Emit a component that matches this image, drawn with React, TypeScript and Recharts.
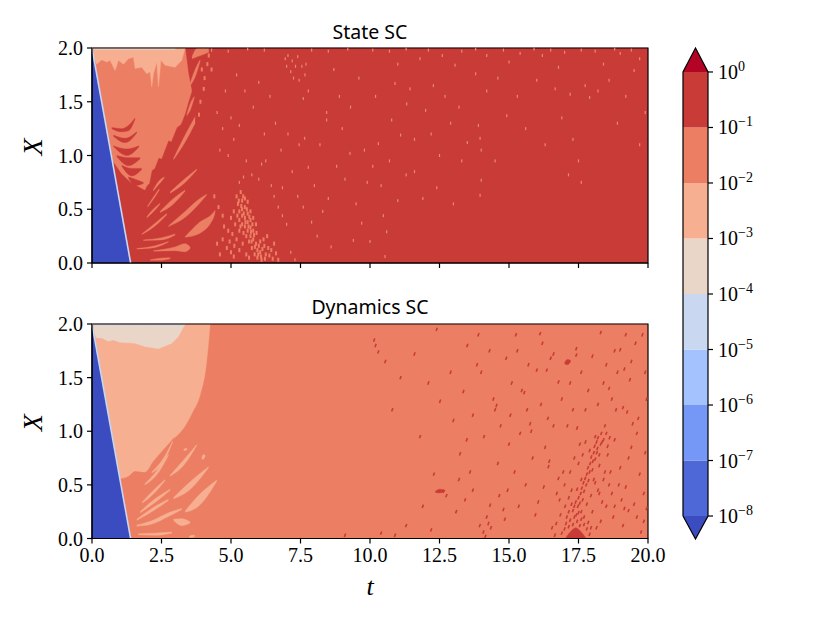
import { Area, ComposedChart, Line, ReferenceArea, Scatter, XAxis, YAxis } from 'recharts'

type Band = [number, number, number]

// contour colours (coolwarm, one per decade)
const RED = '#c93b37'
const ORANGE = '#ec7f63'
const LIGHT = '#f7af91'
const PALE = '#ead5c9'
const PALE_BLUE = '#c9d7f0'
const BLUE = '#3b4cc0'

const tTicks = [0, 2.5, 5, 7.5, 10, 12.5, 15, 17.5, 20]
const xTicks = [0, 0.5, 1, 1.5, 2]

const fullDomain: Band[] = [[0, 0, 2], [20, 0, 2]]
const wedge: Band[] = [[0, 0, 2], [1.39, 0, 0]]
const front = [{ t: 0, X: 2 }, { t: 1.39, X: 0 }]

// State SC, regions as [t, low X, high X]
const stateBody: Band[] = [
  [0.02, 1.97, 2], [0.6, 1.14, 2], [0.75, 0.95, 2], [1.07, 0.83, 2], [1.4, 0.75, 2], [1.9, 0.68, 2],
  [1.98, 0.72, 2], [2.06, 0.74, 2], [2.15, 0.86, 2], [2.25, 0.88, 2], [2.4, 0.98, 2], [2.5, 0.97, 2], [2.75, 1.14, 2], [2.85, 1.13, 2], [3.05, 1.26, 2],
  [3.2, 1.29, 2], [3.35, 1.39, 2], [3.47, 1.5, 1.76], [3.59, 1.6, 1.6],
]
const stateTop: Band[] = [
  [0.05, 1.93, 2], [0.17, 1.85, 2], [0.35, 1.89, 2], [0.53, 1.87, 2], [0.65, 1.885, 2], [0.83, 1.79, 2], [0.95, 1.885, 2],
  [1.13, 1.85, 2], [1.31, 1.9, 2], [1.49, 1.915, 2], [1.55, 1.81, 2], [1.79, 1.82, 2], [1.97, 1.76, 2], [2.09, 1.78, 2],
  [2.15, 1.64, 2], [2.21, 1.76, 2], [2.33, 1.87, 2], [2.39, 1.64, 2], [2.48, 1.885, 2], [2.63, 1.84, 2], [2.99, 1.82, 2],
  [3.23, 1.885, 2], [3.35, 2, 2],
]
const stateStrip: Band[] = [[0.05, 1.985, 2], [3.0, 1.985, 2]]
const stateCrescents: Band[][] = [
  [[0.71, 1.25, 1.26], [1.07, 1.22, 1.25], [1.31, 1.23, 1.28], [1.55, 1.34, 1.35]],
  [[0.77, 1.18, 1.19], [1.19, 1.12, 1.16], [1.61, 1.21, 1.22]],
  [[0.77, 1.085, 1.09], [1.25, 1.0, 1.06], [1.69, 1.08, 1.09]],
  [[0.89, 0.99, 1.0], [1.31, 0.905, 0.98], [1.73, 0.97, 0.98]],
  [[1.07, 0.9, 0.91], [1.43, 0.81, 0.88], [1.79, 0.87, 0.88]],
  [[1.31, 0.79, 0.8], [1.55, 0.72, 0.78], [1.85, 0.74, 0.75]],
]
const stateFeathers: Band[][] = [
  [[1.97, 0.42, 0.43], [2.2, 0.475, 0.5], [2.45, 0.55, 0.555]],
  [[1.79, 0.265, 0.27], [2.27, 0.345, 0.37], [2.69, 0.45, 0.46]],
  [[2.45, 0.47, 0.48], [2.93, 0.55, 0.6], [3.35, 0.67, 0.68]],
  [[2.81, 0.65, 0.66], [3.35, 0.75, 0.785], [3.77, 0.865, 0.875]],
  [[2.75, 0.34, 0.345], [3.35, 0.425, 0.48], [3.83, 0.545, 0.59], [4.13, 0.635, 0.64]],
  [[3.35, 0.24, 0.245], [3.83, 0.27, 0.37], [4.37, 0.42, 0.47], [4.43, 0.48, 0.49]],
  [[1.85, 0.21, 0.215], [2.51, 0.215, 0.235], [2.99, 0.26, 0.27]],
  [[1.61, 0.13, 0.135], [2.27, 0.145, 0.16], [2.75, 0.195, 0.2]],
  [[2.21, 0.11, 0.115], [2.99, 0.115, 0.15], [3.35, 0.105, 0.18], [3.53, 0.135, 0.15]],
  [[2.09, 0.025, 0.03], [2.45, 0.025, 0.045], [2.81, 0.04, 0.05]],
  [[2.93, 0.96, 0.97], [3.29, 1.1, 1.16], [3.71, 1.3, 1.36]],
  [[3.41, 1.37, 1.38], [3.53, 1.42, 1.48], [3.68, 1.54, 1.55]],
  [[3.53, 1.65, 1.67], [3.71, 1.73, 1.8], [3.89, 1.88, 1.89]],
  [[3.6, 1.9, 1.92], [3.8, 1.92, 2], [4.2, 1.96, 2]],
  [[2.2, 0.67, 0.68], [2.4, 0.73, 0.76], [2.6, 0.79, 0.8]],
  [[2.0, 0.52, 0.53], [2.2, 0.59, 0.61], [2.42, 0.68, 0.69]],
]
const stateSpecks: [number, number][] = [
  [3.95, 1.8], [4.05, 1.72], [4.15, 1.85], [4.2, 1.93], [4.02, 1.62], [3.9, 1.5], [3.85, 1.38], [4.3, 1.8],
  [4.4, 0.62], [4.55, 0.52], [4.7, 0.44], [4.5, 0.18], [4.7, 0.22], [4.85, 0.14], [5.0, 0.1], [5.1, 0.06], [4.9, 0.3],
  [5.0, 0.42], [5.1, 0.48], [5.15, 0.36], [5.2, 0.62], [5.25, 0.55], [5.3, 0.48], [5.3, 0.4], [5.3, 0.3], [5.35, 0.66],
  [5.4, 0.58], [5.4, 0.5], [5.4, 0.44], [5.4, 0.36], [5.45, 0.28], [5.5, 0.6], [5.5, 0.52], [5.5, 0.42], [5.5, 0.34],
  [5.55, 0.25], [5.6, 0.57], [5.6, 0.46], [5.6, 0.38], [5.6, 0.3], [5.65, 0.2], [5.7, 0.48], [5.7, 0.4], [5.7, 0.33],
  [5.7, 0.25], [5.75, 0.14], [5.8, 0.42], [5.8, 0.3], [5.8, 0.22], [5.85, 0.08], [5.9, 0.36], [5.9, 0.18], [5.95, 0.12],
  [5.95, 0.05], [6.05, 0.2], [6.05, 0.1], [6.1, 0.03], [6.2, 0.16], [6.25, 0.08], [6.3, 0.25], [6.45, 0.12], [6.55, 0.18],
  [5.23, 0.44], [5.28, 0.58], [5.34, 0.34], [5.37, 0.53], [5.44, 0.62], [5.46, 0.46], [5.52, 0.38], [5.57, 0.5], [5.63, 0.34],
  [5.66, 0.43], [5.72, 0.29], [5.74, 0.2], [5.77, 0.36], [5.83, 0.26], [5.86, 0.15], [5.92, 0.28], [5.98, 0.08], [6.0, 0.16],
  [6.08, 0.06], [6.13, 0.13], [6.17, 0.22], [6.22, 0.04], [6.34, 0.14], [6.38, 0.07], [6.5, 0.04], [6.62, 0.09], [6.7, 0.03],
  [4.6, 0.08], [4.75, 0.34], [4.95, 0.2], [5.05, 0.27], [5.12, 0.16], [5.2, 0.22], [5.3, 0.12], [5.42, 0.18], [5.55, 0.08], [5.65, 0.05],
]
const stateFine: [number, number][] = [
  [5.0, 1.35], [5.1, 1.15], [4.9, 1.0], [5.3, 1.28], [5.55, 0.95], [5.45, 0.8], [5.3, 0.75], [5.75, 0.82], [6.1, 0.92],
  [6.0, 0.78], [6.2, 1.2], [6.25, 0.95], [6.45, 0.72], [6.55, 0.62], [6.7, 0.52], [6.85, 0.44], [7.0, 0.36], [7.15, 0.1],
  [7.3, 0.03], [6.85, 0.7], [7.05, 1.2], [7.45, 1.1], [7.65, 1.16], [7.78, 0.89], [7.9, 0.38], [6.95, 1.9], [7.0, 1.83],
  [7.05, 1.93], [7.15, 1.78], [7.2, 1.88], [7.25, 1.72], [7.32, 1.83], [7.4, 1.92], [7.45, 1.7], [7.55, 1.83], [7.66, 1.75],
  [7.78, 1.6], [7.6, 1.53], [7.7, 1.85], [8.44, 1.4], [8.44, 1.33], [8.7, 1.8], [8.2, 1.1], [9.28, 1.02], [9.1, 0.78],
  [8.5, 0.6], [9.4, 0.21], [9.7, 0.37], [10.0, 0.2], [10.3, 1.11], [10.48, 0.44], [10.54, 0.06], [10.6, 0.29], [10.78, 1.33],
  [10.9, 1.67], [11.1, 1.19], [11.32, 1.48], [11.44, 1.62], [12.0, 1.42], [12.28, 1.65], [11.0, 1.85], [11.8, 1.9], [12.6, 1.93],
  [13.06, 1.84], [13.8, 1.76], [13.96, 1.16], [14.0, 1.05], [14.5, 0.95], [14.0, 0.77], [13.96, 0.63], [13.3, 0.95], [13.9, 1.28],
  [14.92, 1.37], [15.0, 1.87], [14.2, 1.93], [15.4, 1.95], [16.66, 1.62], [16.78, 1.82], [17.2, 1.57], [17.74, 1.65], [17.9, 1.54],
  [18.2, 1.6], [19.5, 1.79], [19.9, 1.4], [17.5, 0.95], [17.14, 0.82], [18.4, 1.85], [16.2, 1.93], [17.0, 1.96], [19.0, 1.95],
  [19.7, 1.9], [12.5, 1.0], [11.6, 0.85], [12.9, 1.3], [9.9, 0.75], [8.9, 1.55], [9.6, 1.72],
  [4.3, 1.98], [4.9, 1.97], [5.6, 1.99], [6.2, 1.98], [7.9, 1.98], [8.5, 1.97], [9.2, 1.99], [10.1, 1.98], [10.7, 1.97], [11.3, 1.99],
  [12.1, 1.98], [13.3, 1.97], [13.8, 1.99], [14.8, 1.98], [15.9, 1.99], [16.5, 1.98], [17.6, 1.98], [18.1, 1.97], [18.8, 1.99], [19.4, 1.98],
  [4.5, 1.4], [4.7, 1.25], [4.6, 1.05], [4.8, 1.6], [5.2, 1.75], [5.5, 1.6], [5.8, 1.45], [6.0, 1.68], [6.4, 1.55], [6.6, 1.3],
  [6.8, 1.05], [7.2, 0.85], [7.4, 0.62], [7.6, 0.52], [8.0, 0.72], [8.1, 0.25], [8.3, 0.48], [8.6, 0.15], [8.8, 0.9], [9.0, 1.25],
  [9.3, 1.45], [9.5, 0.55], [9.8, 1.05], [10.1, 0.9], [10.2, 1.55], [10.4, 0.72], [10.7, 0.95], [11.0, 0.58], [11.3, 0.82], [11.6, 1.15],
  [11.9, 0.6], [12.2, 1.2], [12.4, 0.7], [12.7, 1.55], [13.0, 0.55], [13.2, 1.45], [13.5, 1.12], [14.2, 1.6], [14.6, 1.72], [15.3, 1.55],
  [15.6, 1.25], [16.0, 1.7], [16.3, 1.1], [16.9, 1.35], [17.3, 1.15], [17.6, 0.75], [18.6, 1.7], [18.9, 1.3], [19.2, 1.55], [19.7, 1.1],
]

// Dynamics SC
const dynamicsBody: Band[] = [
  [0.02, 1.97, 2], [0.6, 1.14, 2], [1.0, 0.56, 2], [1.3, 0.58, 2], [1.55, 0.63, 2], [1.9, 0.62, 2], [2.2, 0.72, 2], [2.9, 0.92, 2],
  [3.3, 1.03, 2], [3.6, 1.17, 2], [3.9, 1.35, 2], [4.1, 1.6, 2], [4.2, 1.85, 2], [4.25, 2, 2],
]
const dynamicsTop: Band[] = [
  [0.06, 1.92, 2], [0.17, 1.87, 2], [0.35, 1.87, 2], [0.59, 1.84, 2], [0.77, 1.85, 2], [1.0, 1.83, 2], [1.55, 1.82, 2], [1.9, 1.79, 2],
  [2.39, 1.77, 2], [2.87, 1.82, 2], [3.1, 1.88, 2], [3.35, 2, 2],
]
const dynamicsStrip: Band[] = [[0.05, 1.99, 2], [3.3, 1.99, 2]]
const dynamicsStripes: Band[][] = [
  [[2.15, 0.66, 0.67], [2.6, 0.78, 0.83], [2.95, 0.93, 0.94]],
  [[2.4, 0.55, 0.56], [2.75, 0.68, 0.74], [3.0, 0.83, 0.84]],
]
const dynamicsFeathers: Band[][] = [
  [[1.61, 0.115, 0.125], [2.15, 0.135, 0.165], [2.75, 0.205, 0.24], [3.23, 0.27, 0.28]],
  [[1.61, 0.17, 0.18], [2.15, 0.25, 0.28], [2.75, 0.355, 0.365]],
  [[1.73, 0.24, 0.25], [2.27, 0.335, 0.37], [2.81, 0.45, 0.46]],
  [[1.81, 0.33, 0.34], [2.21, 0.415, 0.45], [2.63, 0.54, 0.55]],
  [[1.9, 0.5, 0.51], [2.33, 0.595, 0.63], [2.75, 0.775, 0.785]],
  [[2.15, 0.61, 0.62], [2.6, 0.725, 0.76], [2.9, 0.9, 0.91]],
  [[2.93, 0.37, 0.38], [3.47, 0.445, 0.515], [4.19, 0.66, 0.67]],
  [[3.35, 0.245, 0.255], [3.83, 0.3, 0.4], [4.49, 0.535, 0.545]],
  [[2.81, 0.58, 0.59], [3.29, 0.68, 0.73], [3.77, 0.87, 0.877]],
  [[2.93, 0.17, 0.18], [3.23, 0.12, 0.185], [3.53, 0.145, 0.155]],
  [[1.67, 0.035, 0.045], [2.27, 0.03, 0.05], [2.87, 0.05, 0.06]],
  [[3.95, 0.74, 0.75], [4.0, 0.74, 0.78], [4.07, 0.77, 0.78]],
  [[3.3, 0.82, 0.83], [3.35, 0.82, 0.84], [3.42, 0.83, 0.84]],
  [[3.5, 0.01, 0.02], [3.6, 0.01, 0.03], [3.7, 0.02, 0.03]],
]
const dynamicsPatches: Band[][] = [
  [[17.05, 0, 0.01], [17.2, 0, 0.06], [17.4, 0, 0.1], [17.6, 0, 0.06], [17.75, 0, 0.01]],
  [[12.35, 0.43, 0.44], [12.5, 0.425, 0.46], [12.7, 0.44, 0.45]],
  [[17.0, 1.63, 1.64], [17.1, 1.62, 1.67], [17.22, 1.65, 1.66]],
]
const dynamicsSpecks: [number, number][] = [
  [10.15, 1.85], [10.2, 1.8], [10.3, 1.74], [10.55, 1.65], [10.8, 1.2], [9.1, 0.03], [10.4, 0.05], [10.9, 0.03], [11.3, 0.12],
  [11.1, 1.5], [11.6, 1.72], [11.9, 0.3], [11.8, 0.95], [12.1, 1.45], [12.2, 0.08], [12.3, 0.6], [12.4, 1.95], [12.52, 1.28],
  [12.64, 0.44], [12.75, 0.4], [12.9, 1.55], [13.0, 1.1], [13.1, 0.25], [13.24, 0.79], [13.36, 1.37], [13.42, 0.36], [13.48, 0.92],
  [13.5, 1.8], [13.6, 0.62], [13.7, 1.15], [13.9, 1.9], [13.95, 0.12], [14.0, 1.55], [14.08, 0.06], [14.1, 0.95], [14.15, 0.02],
  [14.2, 0.2], [14.26, 0.14], [14.32, 0.31], [14.35, 0.1], [14.44, 1.3], [14.5, 1.2], [14.55, 1.24], [14.6, 0.7], [14.65, 0.4],
  [14.7, 1.05], [14.8, 0.27], [14.85, 0.18], [14.9, 1.68], [15.0, 0.88], [15.1, 1.45], [15.2, 0.62], [15.3, 1.75], [15.4, 0.98],
  [15.46, 1.38], [15.55, 1.36], [15.6, 0.5], [15.65, 1.2], [15.76, 1.07], [15.8, 1.0], [15.85, 0.75], [16.0, 1.57], [16.05, 0.34],
  [16.12, 1.91], [16.2, 1.82], [16.3, 0.85], [16.36, 1.57], [16.42, 0.67], [16.45, 0.72], [16.5, 1.68], [16.55, 0.1], [16.6, 1.05],
  [16.65, 0.03], [16.7, 0.14], [16.72, 0.42], [16.78, 1.46], [16.78, 0.56], [16.82, 0.36], [16.85, 0.22], [16.9, 1.3], [17.0, 0.5],
  [17.02, 0.3], [17.08, 0.2], [17.15, 0.38], [17.2, 0.62], [17.25, 0.45], [17.3, 1.2], [17.35, 0.75], [17.42, 1.71], [17.42, 1.77],
  [17.45, 1.03], [17.5, 0.7], [17.55, 0.88], [17.6, 0.25], [17.65, 0.78], [17.7, 0.2], [17.75, 0.9], [17.8, 0.32], [17.85, 1.38],
  [17.9, 0.82], [17.95, 0.4], [18.0, 0.25], [18.05, 0.55], [18.1, 0.95], [18.15, 0.1], [18.16, 0.8], [18.2, 0.45], [18.25, 0.68],
  [18.3, 0.16], [18.35, 0.9], [18.4, 0.55], [18.4, 1.45], [18.45, 1.05], [18.5, 0.3], [18.55, 0.78], [18.6, 1.4], [18.65, 0.62],
  [18.7, 0.42], [18.7, 1.3], [18.75, 0.2], [18.8, 0.92], [18.85, 1.2], [18.9, 1.55], [19.0, 1.76], [19.0, 0.66], [19.05, 0.36],
  [19.1, 1.22], [19.1, 0.12], [19.15, 1.58], [19.2, 0.48], [19.25, 1.18], [19.3, 0.26], [19.35, 1.48], [19.4, 1.65], [19.4, 0.85],
  [19.45, 1.07], [19.5, 0.32], [19.55, 1.82], [19.6, 0.2], [19.6, 0.98], [19.65, 1.12], [19.7, 0.6], [19.75, 0.06], [19.8, 1.9],
  [19.85, 0.16], [19.85, 0.42], [19.9, 1.55], [19.9, 0.8], [19.95, 0.28], [19.95, 1.3],
  // dense streak running up from the bottom near t = 17.3
  [16.9, 0.05], [17.0, 0.09], [17.05, 0.14], [17.15, 0.11], [17.2, 0.17], [17.3, 0.13], [17.35, 0.2], [17.45, 0.16], [17.5, 0.24],
  [17.55, 0.12], [17.6, 0.18], [17.7, 0.13], [17.8, 0.09], [17.85, 0.15], [17.9, 0.04], [17.95, 0.1], [17.3, 0.26], [17.35, 0.3],
  [17.4, 0.34], [17.42, 0.22], [17.48, 0.3], [17.5, 0.38], [17.55, 0.33], [17.58, 0.42], [17.62, 0.47], [17.65, 0.36], [17.68, 0.52],
  [17.7, 0.44], [17.74, 0.56], [17.78, 0.5], [17.8, 0.6], [17.84, 0.66], [17.86, 0.54], [17.9, 0.62], [17.92, 0.7], [17.96, 0.76],
  [18.0, 0.64], [18.02, 0.72], [18.05, 0.8], [18.08, 0.86], [18.1, 0.74], [18.15, 0.9], [18.18, 0.84], [18.2, 0.94], [18.25, 0.78],
  [18.3, 0.88], [18.32, 0.98], [18.4, 0.92], [18.5, 0.98], [18.55, 0.86], [18.62, 0.94], [17.6, 0.55], [17.45, 0.46], [17.25, 0.32],
  [17.15, 0.25], [18.1, 0.52], [18.25, 0.42], [18.35, 0.34], [18.45, 0.62], [18.6, 0.5], [18.8, 0.3], [18.95, 0.5], [19.15, 0.28],
  [13.2, 0.55], [13.7, 0.45], [13.85, 1.62], [14.3, 1.75], [14.95, 0.45], [15.05, 1.15], [15.25, 1.9], [15.35, 0.3], [15.7, 1.62],
  [15.95, 0.22], [16.15, 1.25], [16.25, 0.48], [16.4, 1.12], [16.6, 1.72], [16.95, 0.62], [17.1, 1.05], [17.2, 1.45], [17.6, 1.55],
  [17.75, 1.2], [18.0, 1.7], [18.2, 1.25], [18.3, 1.92], [18.5, 1.62], [18.8, 1.75], [19.2, 1.9], [19.3, 0.75],
]

// colourbar, decade exponents from -8 to 0
const barEdges = [-8, -7, -6, -5, -4, -3, -2, -1, 0]
const barColors = ['#4e68d8', '#7597f6', '#a3c2fe', PALE_BLUE, PALE, LIGHT, ORANGE, RED]
const barTicks = [-8, -7, -6, -5, -4, -3, -2, -1, 0]
const barLow = -8.414
const barHigh = 0.432
const LOW_EXT = BLUE
const HIGH_EXT = '#b40426'

const SERIF = '"Liberation Serif", serif'
const SANS = '"Noto Sans", sans-serif'

const rows = (bands: Band[]) => bands.map(([t, lo, hi]) => ({ t, band: [lo, hi] }))
const points = (pts: [number, number][]) => pts.map(([t, X]) => ({ t, X }))

function region(bands: Band[], color: string, key: string, curve: any = 'linear') {
  return (
    <Area
      key={key}
      data={rows(bands)}
      dataKey="band"
      type={curve}
      stroke={color}
      strokeWidth={0.4}
      fill={color}
      fillOpacity={1}
      dot={false}
      activeDot={false}
      isAnimationActive={false}
    />
  )
}

const StateSpeck = ({ cx, cy }: any) => <rect x={cx - 1} y={cy - 2} width={2} height={4} fill={ORANGE} />
const StateFineSpeck = ({ cx, cy }: any) => <rect x={cx - 0.6} y={cy - 1.5} width={1.2} height={3} fill="#ea8a70" />
const DynamicsSpeck = ({ cx, cy }: any) => (
  <rect x={cx - 0.8} y={cy - 1.8} width={1.6} height={3.6} fill={RED} transform={`rotate(20 ${cx} ${cy})`} />
)

const axisStroke = { stroke: '#000', strokeWidth: 1.2 }

function Panel({ top, showLabels, children }: any) {
  return (
    <div style={{ position: 'absolute', left: 0, top }}>
      <ComposedChart width={680} height={showLabels ? 306.5 : 269} margin={{ top: 27, right: 32, bottom: 0, left: 0 }}>
        <XAxis
          dataKey="t"
          type="number"
          domain={[0, 20]}
          ticks={tTicks}
          height={showLabels ? 65 : 27}
          interval={0}
          tickSize={5}
          tickMargin={4}
          axisLine={axisStroke}
          tickLine={axisStroke}
          tickFormatter={(v: number) => (showLabels ? v.toFixed(1) : '')}
          tick={{ fontFamily: SERIF, fontSize: 20, fill: '#000' }}
          label={showLabels ? { value: 't', position: 'insideBottom', offset: 9, fontFamily: SERIF, fontStyle: 'italic', fontSize: 26, fill: '#000' } : undefined}
        />
        <YAxis
          type="number"
          domain={[0, 2]}
          ticks={xTicks}
          width={92}
          interval={0}
          tickSize={5}
          tickMargin={4}
          axisLine={axisStroke}
          tickLine={axisStroke}
          tickFormatter={(v: number) => v.toFixed(1)}
          tick={{ fontFamily: SERIF, fontSize: 20, fill: '#000' }}
          label={{ value: 'X', angle: -90, position: 'insideLeft', offset: 32, fontFamily: SERIF, fontStyle: 'italic', fontSize: 28, fill: '#000' }}
        />
        {children}
        <Line data={front} dataKey="X" stroke={PALE_BLUE} strokeWidth={1.6} dot={false} activeDot={false} isAnimationActive={false} />
        <ReferenceArea x1={0} x2={20} y1={0} y2={2} fill="none" stroke="#000" strokeWidth={1.2} />
      </ComposedChart>
    </div>
  )
}

const BarTick = ({ x, y, payload }: any) => (
  <text x={x + 3} y={y + 7} fontFamily={SERIF} fontSize={20} fill="#000">
    10
    <tspan dy={-8} fontSize={14}>{payload.value === 0 ? '0' : `\u2212${Math.abs(payload.value)}`}</tspan>
  </text>
)

function Colorbar() {
  const outline = [
    { c: 0, v: barEdges[0] }, { c: 0.5, v: barLow }, { c: 1, v: barEdges[0] }, { c: 1, v: 0 },
    { c: 0.5, v: barHigh }, { c: 0, v: 0 }, { c: 0, v: barEdges[0] },
  ]
  return (
    <div style={{ position: 'absolute', left: 640, top: 0 }}>
      <ComposedChart width={190} height={623} margin={{ top: 48, right: 0, bottom: 84, left: 43 }}>
        <XAxis dataKey="c" type="number" domain={[0, 1]} hide />
        <YAxis
          type="number"
          orientation="right"
          domain={[barLow, barHigh]}
          ticks={barTicks}
          width={122}
          interval={0}
          tickSize={5}
          axisLine={false}
          tickLine={axisStroke}
          tick={<BarTick />}
        />
        {barColors.map((color, i) => (
          <Area
            key={color}
            data={[{ c: 0, band: [barEdges[i], barEdges[i + 1]] }, { c: 1, band: [barEdges[i], barEdges[i + 1]] }]}
            dataKey="band"
            type="linear"
            stroke="none"
            fill={color}
            fillOpacity={1}
            dot={false}
            activeDot={false}
            isAnimationActive={false}
          />
        ))}
        <Area
          data={[{ c: 0, band: [-8, -8] }, { c: 0.5, band: [barLow, -8] }, { c: 1, band: [-8, -8] }]}
          dataKey="band"
          type="linear"
          stroke="none"
          fill={LOW_EXT}
          fillOpacity={1}
          dot={false}
          activeDot={false}
          isAnimationActive={false}
        />
        <Area
          data={[{ c: 0, band: [0, 0] }, { c: 0.5, band: [0, barHigh] }, { c: 1, band: [0, 0] }]}
          dataKey="band"
          type="linear"
          stroke="none"
          fill={HIGH_EXT}
          fillOpacity={1}
          dot={false}
          activeDot={false}
          isAnimationActive={false}
        />
        <Line data={outline} dataKey="v" stroke="#000" strokeWidth={1.2} dot={false} activeDot={false} isAnimationActive={false} />
      </ComposedChart>
    </div>
  )
}

const titleStyle: any = {
  position: 'absolute', left: 92, width: 556, textAlign: 'center',
  fontFamily: SANS, fontSize: 19.5, lineHeight: '24px', color: '#000',
}

export default function App() {
  return (
    <div style={{ position: 'absolute', left: 0, top: 0, width: 830, height: 623, background: '#fff' }}>
      <div style={{ ...titleStyle, top: 20 }}>State SC</div>
      <div style={{ ...titleStyle, top: 295 }}>Dynamics SC</div>
      <Panel top={21} showLabels={false}>
        {region(fullDomain, RED, 'base')}
        {region(stateBody, ORANGE, 'body')}
        {region(stateTop, LIGHT, 'top')}
        {region(stateStrip, PALE, 'strip')}
        {stateCrescents.map((b, i) => region(b, RED, `c${i}`, 'monotone'))}
        {stateFeathers.map((b, i) => region(b, ORANGE, `f${i}`, 'monotone'))}
        <Scatter data={points(stateSpecks)} dataKey="X" shape={<StateSpeck />} isAnimationActive={false} />
        <Scatter data={points(stateFine)} dataKey="X" shape={<StateFineSpeck />} isAnimationActive={false} />
        {region(wedge, BLUE, 'wedge')}
      </Panel>
      <Panel top={297} showLabels>
        {region(fullDomain, ORANGE, 'base')}
        {region(dynamicsBody, LIGHT, 'body', 'monotone')}
        {region(dynamicsTop, PALE, 'top')}
        {region(dynamicsStrip, PALE_BLUE, 'strip')}
        {dynamicsStripes.map((b, i) => region(b, ORANGE, `s${i}`, 'monotone'))}
        {dynamicsFeathers.map((b, i) => region(b, LIGHT, `f${i}`, 'monotone'))}
        {dynamicsPatches.map((b, i) => region(b, RED, `p${i}`, 'monotone'))}
        <Scatter data={points(dynamicsSpecks)} dataKey="X" shape={<DynamicsSpeck />} isAnimationActive={false} />
        {region(wedge, BLUE, 'wedge')}
      </Panel>
      <Colorbar />
    </div>
  )
}
